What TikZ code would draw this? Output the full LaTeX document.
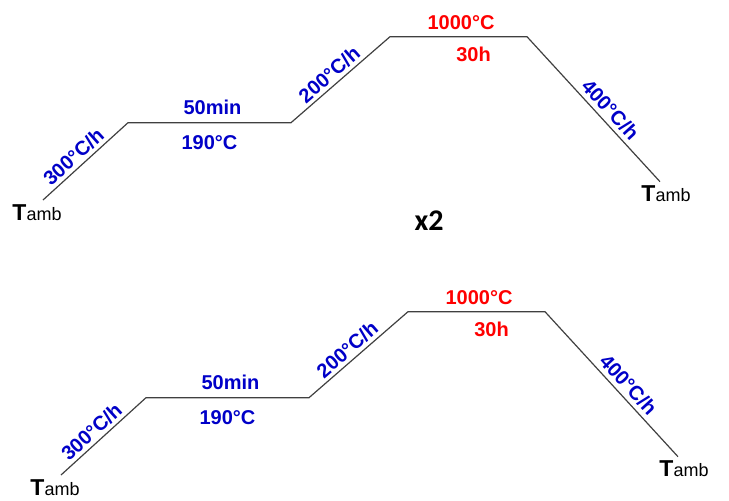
\documentclass[tikz,border=0pt]{standalone}
\usepackage{fontspec}
\setmainfont{Liberation Sans}
\newfontfamily\calibri{Carlito}
\usetikzlibrary{calc}
\definecolor{rateblue}{RGB}{0,0,200}
\definecolor{holdred}{RGB}{255,0,0}
\definecolor{linegray}{RGB}{64,64,64}
\newcommand{\tamb}{{\bfseries\fontsize{23}{24}\selectfont T}amb}

\begin{document}
\begin{tikzpicture}[x=1pt,y=-1pt,
  ramp/.style={draw=linegray, line width=1.2pt},
  rate/.style={text=rateblue, font=\bfseries\fontsize{20}{24}\selectfont, inner sep=0pt},
  hold/.style={text=holdred, font=\bfseries\fontsize{20}{24}\selectfont, inner sep=0pt},
  amb/.style={inner sep=0pt, font=\fontsize{18}{22}\selectfont}]
\useasboundingbox (0,0) rectangle (729,501);
% two identical cycles, the second one shifted down
\foreach \n/\sx/\sy in {a/0/0, b/18/275}{
\begin{scope}[shift={(\sx,\sy)}]
\coordinate (\n0) at (43,200);
\coordinate (\n1) at (128,122.7);
\coordinate (\n2) at (291,122.7);
\coordinate (\n3) at (390,36.7);
\coordinate (\n4) at (527,36.7);
\coordinate (\n5) at (660,181.7);
\draw[ramp] (\n0) -- node[rate, sloped, above=3.5pt, pos=0.45] (rate1\n) {300°C/h} (\n1)
  -- node[rate, above=7.7pt, xshift=3pt] (time1\n) {50min}
     node[rate, below=12pt] (temp1\n) {190°C} (\n2)
  -- node[rate, sloped, above=3.2pt, pos=0.46] (rate2\n) {200°C/h} (\n3)
  -- node[hold, above=6.7pt, xshift=2.5pt] (temp2\n) {1000°C}
     node[hold, below=10pt, xshift=15pt] (time2\n) {30h} (\n4)
  -- node[rate, sloped, above=4pt, pos=0.56] (rate3\n) {400°C/h} (\n5);
\node[amb, below=4pt, xshift=-6pt] (start\n) at (\n0) {\tamb};
\node[amb, below=3.3pt, xshift=6pt] (end\n) at (\n5) {\tamb};
\end{scope}
}
\node[font=\calibri\bfseries\fontsize{30}{32}\selectfont] (rep) at (429,221) {x2};
\end{tikzpicture}
\end{document}
